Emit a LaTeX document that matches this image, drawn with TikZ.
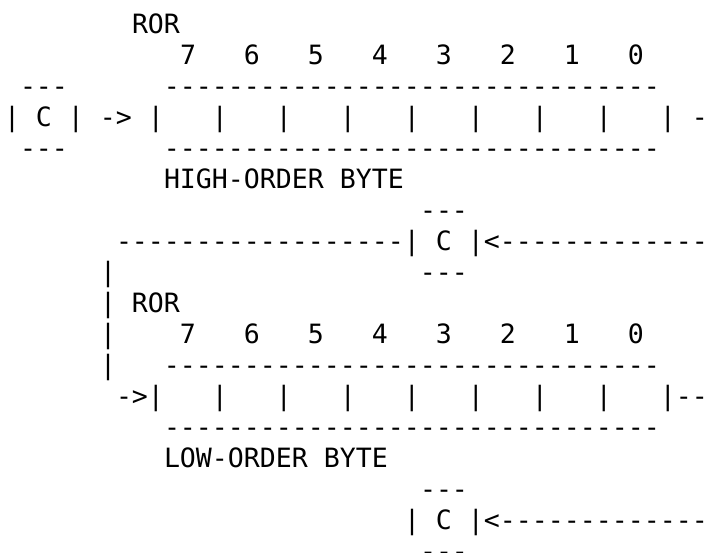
\documentclass[tikz,border=0pt]{standalone}
\usepackage{fontspec}
\setmonofont{DejaVu Sans Mono}
\usepackage{tikz}
\usetikzlibrary{positioning}

% one byte of the register, as it is printed
\newcommand\bitnums{7~~~6~~~5~~~4~~~3~~~2~~~1~~~0}
\newcommand\bitcells{|~~~|~~~|~~~|~~~|~~~|~~~|~~~|~~~|}
\newcommand\byteedge{-------------------------------}

\begin{document}
\begin{tikzpicture}[
  x=0.75pt, y=-0.75pt,
  ascii/.style={anchor=base west, inner sep=0pt, outer sep=0pt,
    font=\fontsize{19.93}{23.25}\selectfont\ttfamily}
]
\useasboundingbox (0,0) rectangle (714,553);

% high-order byte
\node[ascii] (rorHigh) at (132,33.7) {ROR};
\node[ascii] (bitsHigh) at (180,64.7) {\bitnums};
\node[ascii] (topHigh) at (20,95.7) {---~~~~~~\byteedge};
\node[ascii] (regHigh) at (4,126.7) {|~C~|~->~\bitcells~-};
\node[ascii] (botHigh) at (20,157.7) {---~~~~~~\byteedge};
\node[ascii] (labHigh) at (164,188.7) {HIGH-ORDER~BYTE};

% carry between the two bytes
\node[ascii] (carryTopA) at (420,219.7) {---};
\node[ascii] (carryA) at (116,250.7) {------------------|~C~|<-------------};
\node[ascii] (carryBotA) at (100,281.7) {|~~~~~~~~~~~~~~~~~~~---};

% low-order byte
\node[ascii] (rorLow) at (100,312.7) {|~ROR};
\node[ascii] (bitsLow) at (100,343.7) {|~~~~\bitnums};
\node[ascii] (topLow) at (100,374.7) {|~~~\byteedge};
\node[ascii] (regLow) at (116,405.7) {->\bitcells--};
\node[ascii] (botLow) at (164,436.7) {\byteedge};
\node[ascii] (labLow) at (164,467.7) {LOW-ORDER~BYTE};

% carry out
\node[ascii] (carryTopB) at (420,498.7) {---};
\node[ascii] (carryB) at (404,529.7) {|~C~|<-------------};
\node[ascii] (carryBotB) at (420,560.7) {---};
\end{tikzpicture}
\end{document}
